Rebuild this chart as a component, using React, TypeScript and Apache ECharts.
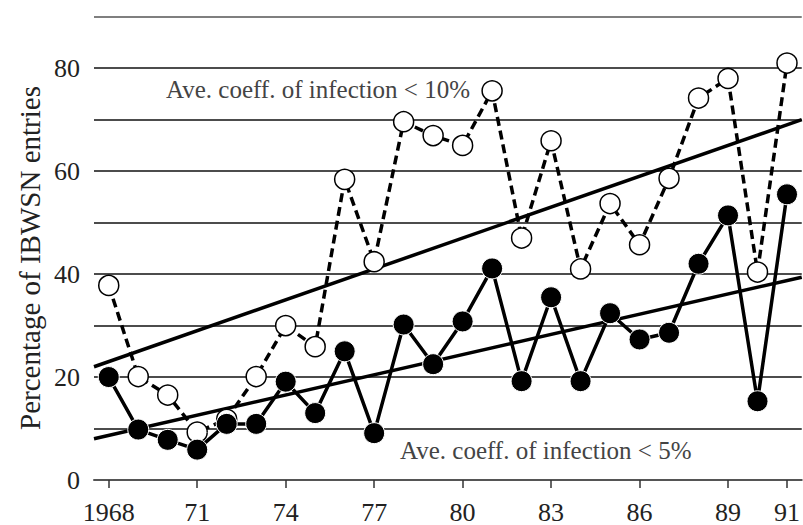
import React, { useEffect, useRef } from 'react';
import * as echarts from 'echarts';

const years = [1968, 1969, 1970, 1971, 1972, 1973, 1974, 1975, 1976, 1977, 1978, 1979, 1980, 1981, 1982, 1983, 1984, 1985, 1986, 1987, 1988, 1989, 1990, 1991];
const below10 = [37.8, 20.1, 16.5, 9.3, 11.8, 20.1, 30.0, 25.9, 58.4, 42.4, 69.6, 66.9, 65.0, 75.6, 47.0, 65.9, 41.0, 53.7, 45.7, 58.6, 74.2, 78.0, 40.4, 81.0];
const below5 = [20.0, 9.8, 7.8, 5.9, 10.9, 10.9, 19.1, 13.0, 25.0, 9.1, 30.2, 22.5, 30.8, 41.1, 19.2, 35.5, 19.2, 32.4, 27.3, 28.6, 42.0, 51.4, 15.3, 55.5];
const trend10 = [[1967.5, 22.0], [1991.5, 70.0]];
const trend5 = [[1967.5, 8.0], [1991.5, 39.4]];
const xTicks = [1968, 1971, 1974, 1977, 1980, 1983, 1986, 1989, 1991];
const yLabels = [0, 20, 40, 60, 80];
const label10 = 'Ave. coeff. of infection < 10%';
const label5 = 'Ave. coeff. of infection < 5%';
const yTitle = 'Percentage of IBWSN entries';

const FONT = "'Liberation Serif', 'DejaVu Serif', serif";

export default function App() {
  const ref = useRef<HTMLDivElement>(null);
  useEffect(() => {
    if (!ref.current) return;
    const chart = echarts.init(ref.current, undefined, { renderer: 'svg' });
    const grid = ['#555', '#111', '#111', '#111', '#111', '#111', '#111', '#111', '#111', '#555'];
    chart.setOption({
      animation: false,
      backgroundColor: '#fff',
      grid: { left: 94, right: 0, top: 16.7, bottom: 42.7 },
      xAxis: {
        type: 'value',
        min: 1967.5,
        max: 1991.5,
        splitLine: { show: false },
        axisLine: { show: true, onZero: false, lineStyle: { color: '#555', width: 2 } },
        axisTick: { show: true, customValues: xTicks, length: 8, inside: false, lineStyle: { color: '#333', width: 1.5 } },
        axisLabel: {
          customValues: xTicks,
          margin: 19,
          color: '#222',
          fontFamily: FONT,
          fontSize: 26,
          formatter: (v: number) => (v === 1968 ? '1968' : String(v % 100)),
        },
      },
      yAxis: {
        type: 'value',
        min: 0,
        max: 90,
        interval: 10,
        axisLine: { show: false },
        axisTick: { show: false },
        splitLine: { show: true, lineStyle: { color: grid, width: 1.6 } },
        axisLabel: {
          customValues: yLabels,
          margin: 14,
          color: '#222',
          fontFamily: FONT,
          fontSize: 26,
        },
      },
      series: [
        {
          type: 'line',
          data: trend10,
          symbol: 'none',
          lineStyle: { color: '#000', width: 3.5 },
          z: 2,
        },
        {
          type: 'line',
          data: trend5,
          symbol: 'none',
          lineStyle: { color: '#000', width: 3.5 },
          z: 2,
        },
        {
          type: 'line',
          data: years.map((y, i) => [y, below10[i]]),
          symbol: 'circle',
          symbolSize: 20,
          showAllSymbol: true,
          lineStyle: { color: '#000', width: 3.5, type: [9, 5] },
          itemStyle: { color: '#fff', borderColor: '#000', borderWidth: 1.5 },
          z: 3,
        },
        {
          type: 'line',
          data: years.map((y, i) => [y, below5[i]]),
          symbol: 'circle',
          symbolSize: 21,
          showAllSymbol: true,
          lineStyle: { color: '#000', width: 3.5 },
          itemStyle: { color: '#000', borderColor: '#fff', borderWidth: 1 },
          z: 4,
        },
      ],
      graphic: [
        {
          type: 'text',
          x: 30,
          y: 258,
          rotation: Math.PI / 2,
          style: {
            text: yTitle,
            fontFamily: FONT,
            fontSize: 29,
            fill: '#222',
            align: 'center',
            verticalAlign: 'middle',
          },
          z: 10,
        },
        {
          type: 'text',
          left: 166,
          top: 77,
          style: { text: label10, fontFamily: FONT, fontSize: 25, fill: '#444' },
          z: 10,
        },
        {
          type: 'text',
          left: 400,
          top: 438,
          style: { text: label5, fontFamily: FONT, fontSize: 25, fill: '#444' },
          z: 10,
        },
      ],
    });
    return () => chart.dispose();
  }, []);
  return (
    <div
      ref={ref}
      style={{ position: 'fixed', left: 0, top: 0, width: 803, height: 525, background: '#fff' }}
    />
  );
}
